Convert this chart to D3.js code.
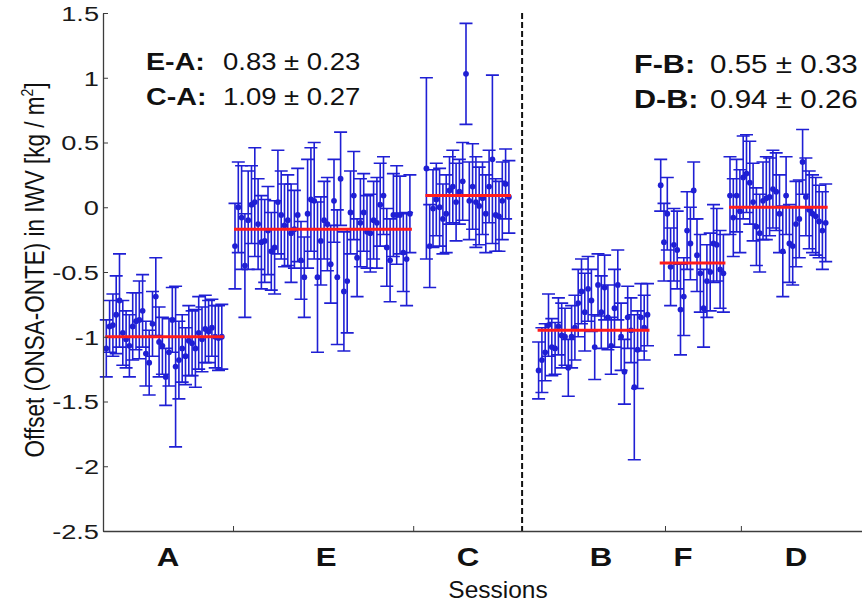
<!DOCTYPE html>
<html>
<head>
<meta charset="utf-8">
<script src="https://cdn.jsdelivr.net/npm/d3@7"></script>
<style>
  body { margin: 0; background: #fff; }
  svg { display: block; }
</style>
</head>
<body>
<div id="chart"></div>
<script>
const W = 862, H = 607;

// sessions, x positions are observation index
const sessions = ["A", "E", "C", "B", "F", "D"];
const sessionStart = [1, 40, 98, 132, 169, 190];
const sessionMeans = [-1.0, -0.17, 0.09, -0.95, -0.43, 0.0];
const sessionLabelPos = [19.7, 67.6, 110.6, 150.9, 175.8, 210];
const boundaryTicks = [39.4, 94, 170.3, 193.3];
const splitAt = 127;

const valsA = [-1.09, -0.92, -0.91, -0.83, -0.72, -0.97, -1.02, -1.07, -0.92, -0.88, -0.87, -0.80,
  -1.13, -1.20, -0.90, -0.69, -1.04, -1.07, -1.31, -1.12, -0.87, -1.23, -1.18, -1.09,
  -1.15, -1.03, -1.05, -1.09, -0.97, -1.02, -0.94, -0.96, -0.93, -1.00, -1.01, -1.00];
const errA = [0.22, 0.2, 0.24, 0.3, 0.36, 0.25, 0.22, 0.24, 0.26, 0.22, 0.3, 0.28,
  0.25, 0.25, 0.25, 0.3, 0.27, 0.22, 0.22, 0.26, 0.25, 0.62, 0.3, 0.26,
  0.22, 0.27, 0.25, 0.3, 0.28, 0.25, 0.26, 0.24, 0.22, 0.24, 0.25, 0.25];

const valsE = [-0.30, 0.00, -0.08, -0.45, -0.10, 0.02, 0.04, -0.13, -0.27, -0.26, -0.18, -0.34,
  -0.31, 0.04, -0.06, -0.14, -0.10, -0.20, -0.17, -0.06, -0.41, -0.54, -0.05, 0.06,
  0.05, -0.54, -0.26, -0.10, -0.13, -0.44, 0.05, -0.54, 0.22, -0.65, -0.57, -0.04,
  0.09, -0.39, -0.12, -0.04, -0.19, -0.20, -0.10, -0.12, 0.02, 0.09, -0.31, -0.41,
  -0.06, -0.06, -0.06, -0.35, -0.40, -0.05];
const errE = [0.33, 0.35, 0.4, 0.4, 0.38, 0.3, 0.42, 0.35, 0.36, 0.32, 0.34, 0.3,
  0.36, 0.4, 0.34, 0.32, 0.35, 0.38, 0.3, 0.36, 0.3, 0.31, 0.42, 0.4,
  0.45, 0.58, 0.34, 0.3, 0.36, 0.3, 0.32, 0.52, 0.36, 0.46, 0.4, 0.32,
  0.34, 0.3, 0.34, 0.3, 0.28, 0.3, 0.3, 0.35, 0.32, 0.3, 0.3, 0.32,
  0.32, 0.38, 0.3, 0.3, 0.36, 0.3];

const valsC = [0.30, -0.30, -0.01, 0.06, 0.00, -0.09, -0.05, 0.13, 0.16, 0.04, 0.12, 0.20, 1.03,
  0.05, 0.16, 0.04, 0.01, 0.07, -0.05, 0.16, 0.37, -0.06, -0.07, 0.05, 0.18, 0.08];
const errC = [0.70, 0.32, 0.3, 0.28, 0.3, 0.27, 0.3, 0.26, 0.28, 0.3, 0.25, 0.3, 0.39,
  0.3, 0.33, 0.35, 0.3, 0.28, 0.3, 0.28, 0.65, 0.28, 0.27, 0.3, 0.27, 0.28];

const valsB = [-1.26, -1.18, -1.12, -0.91, -1.08, -1.09, -0.92, -0.99, -1.00, -1.24, -1.00, -0.93,
  -0.74, -0.65, -0.81, -0.63, -0.72, -1.08, -0.60, -0.81, -0.62, -0.85, -1.07, -0.78,
  -0.60, -1.00, -1.27, -0.85, -0.95, -1.39, -1.10, -0.85, -0.93, -0.83];
const errB = [0.22, 0.25, 0.22, 0.24, 0.22, 0.2, 0.22, 0.25, 0.22, 0.22, 0.24, 0.25,
  0.26, 0.25, 0.3, 0.25, 0.24, 0.25, 0.24, 0.28, 0.25, 0.25, 0.22, 0.3,
  0.27, 0.26, 0.25, 0.24, 0.25, 0.56, 0.3, 0.26, 0.25, 0.24];

const valsF = [0.17, -0.27, -0.05, -0.46, -0.29, -0.33, -0.79, -0.69, -0.18, -0.28,
  0.13, -0.37, -0.51, -0.78, -0.57, -0.50, -0.28, -0.29, -0.48, -0.51];
const errF = [0.2, 0.3, 0.28, 0.3, 0.28, 0.3, 0.35, 0.3, 0.3, 0.28,
  0.22, 0.28, 0.3, 0.3, 0.28, 0.3, 0.3, 0.28, 0.3, 0.3];

const valsD = [0.09, -0.08, 0.09, -0.03, 0.23, 0.26, 0.19, 0.04, -0.15, -0.20, 0.05, 0.07,
  0.08, 0.14, 0.12, -0.05, -0.34, 0.09, -0.28, -0.30, -0.13, -0.09, 0.35, 0.08,
  -0.02, -0.05, -0.07, -0.11, -0.18, -0.12];
const errD = [0.3, 0.3, 0.28, 0.32, 0.32, 0.3, 0.32, 0.3, 0.3, 0.3, 0.3, 0.32,
  0.3, 0.3, 0.3, 0.3, 0.35, 0.3, 0.3, 0.3, 0.33, 0.3, 0.25, 0.3,
  0.3, 0.3, 0.3, 0.28, 0.3, 0.3];

const yTicks = [1.5, 1, 0.5, 0, -0.5, -1, -1.5, -2, -2.5];
const diffLeft = [["E-A:", "0.83 \u00b1 0.23"], ["C-A:", "1.09 \u00b1 0.27"]];
const diffRight = [["F-B:", "0.55 \u00b1 0.33"], ["D-B:", "0.94 \u00b1 0.26"]];

const series = [valsA, valsE, valsC, valsB, valsF, valsD];
const errors = [errA, errE, errC, errB, errF, errD];

const blue = "#1f1fd4";
const red = "#ff1c1c";
const axisColor = "#3c3c3c";
const font = "'Liberation Sans', Arial, sans-serif";

const svg = d3.select("#chart").append("svg")
  .attr("width", W)
  .attr("height", H);

const x = d3.scaleLinear().domain([0, 230]).range([103, 862]);
const y = d3.scaleLinear().domain([-2.5, 1.5]).range([531, 13]);

const points = series.flatMap((vals, s) =>
  vals.map((v, i) => ({ idx: sessionStart[s] + i, v, e: errors[s][i] })));

// text that is stretched horizontally like the original figure
function stretchedText(parent, px, py, str, size, sx, anchor, weight) {
  return parent.append("text")
    .attr("transform", `translate(${px},${py}) scale(${sx},1)`)
    .attr("text-anchor", anchor)
    .attr("font-family", font)
    .attr("font-size", size)
    .attr("font-weight", weight || "normal")
    .attr("fill", "#111")
    .text(str);
}

// error bars
const cap = 6.5;
svg.append("g").selectAll("path")
  .data(points)
  .join("path")
  .attr("d", d => {
    const cx = x(d.idx), t = y(d.v + d.e), b = y(d.v - d.e);
    return `M${cx},${t}V${b}M${cx - cap},${t}H${cx + cap}M${cx - cap},${b}H${cx + cap}`;
  })
  .attr("fill", "none")
  .attr("stroke", blue)
  .attr("stroke-width", 1.6);

svg.append("g").selectAll("circle")
  .data(points)
  .join("circle")
  .attr("cx", d => x(d.idx))
  .attr("cy", d => y(d.v))
  .attr("r", 2.9)
  .attr("fill", blue);

// session means
svg.append("g").selectAll("line")
  .data(sessions)
  .join("line")
  .attr("x1", (d, i) => x(sessionStart[i]) - 1)
  .attr("x2", (d, i) => x(sessionStart[i] + series[i].length - 1) + 2)
  .attr("y1", (d, i) => y(sessionMeans[i]))
  .attr("y2", (d, i) => y(sessionMeans[i]))
  .attr("stroke", red)
  .attr("stroke-width", 3);

// split between the two station groups
svg.append("line")
  .attr("x1", x(splitAt)).attr("x2", x(splitAt))
  .attr("y1", y(1.5)).attr("y2", y(-2.5))
  .attr("stroke", "#111")
  .attr("stroke-width", 2)
  .attr("stroke-dasharray", "6,3");

// axes
const yAxis = svg.append("g")
  .attr("transform", `translate(${x(0)},0)`)
  .call(d3.axisLeft(y).tickValues(yTicks).tickSize(-5).tickSizeOuter(0).tickFormat(d => String(d)));
yAxis.select(".domain").attr("stroke", axisColor).attr("stroke-width", 1.3);
yAxis.selectAll(".tick line").attr("stroke", axisColor);
yAxis.selectAll(".tick text")
  .attr("x", null).attr("dy", null)
  .attr("transform", "translate(-4,7.3) scale(1.36,1)")
  .attr("font-family", font)
  .attr("font-size", 20)
  .attr("fill", "#1a1a1a");

const xAxis = svg.append("g")
  .attr("transform", `translate(0,${y(-2.5)})`)
  .call(d3.axisBottom(x).tickValues(boundaryTicks).tickSize(-5).tickSizeOuter(0).tickFormat(""));
xAxis.select(".domain").attr("stroke", axisColor).attr("stroke-width", 1.3);
xAxis.selectAll(".tick line").attr("stroke", axisColor);

sessions.forEach((s, i) => {
  stretchedText(svg, x(sessionLabelPos[i]), 566, s, 26, 1.2, "middle", "bold");
});

stretchedText(svg, 498, 598, "Sessions", 24, 1.02, "middle");

// y label
const yl = svg.append("text")
  .attr("transform", "translate(44,270) rotate(-90) scale(1,1.23)")
  .attr("text-anchor", "middle")
  .attr("font-family", font)
  .attr("font-size", 22.5)
  .attr("fill", "#111");
yl.append("tspan").text("Offset (ONSA-ONTE) in IWV [kg / m");
yl.append("tspan").attr("font-size", 14).attr("dy", -9).text("2");
yl.append("tspan").attr("dy", 9).text("]");

// differences between sessions
diffLeft.forEach((d, i) => {
  stretchedText(svg, 146, 70 + i * 35, d[0], 23.5, 1.22, "start", "bold");
  stretchedText(svg, 223, 70 + i * 35, d[1], 23.5, 1.17, "start");
});
diffRight.forEach((d, i) => {
  stretchedText(svg, 634, 73 + i * 35, d[0], 25.5, 1.2, "start", "bold");
  stretchedText(svg, 710, 73 + i * 35, d[1], 25.5, 1.16, "start");
});
</script>
</body>
</html>
